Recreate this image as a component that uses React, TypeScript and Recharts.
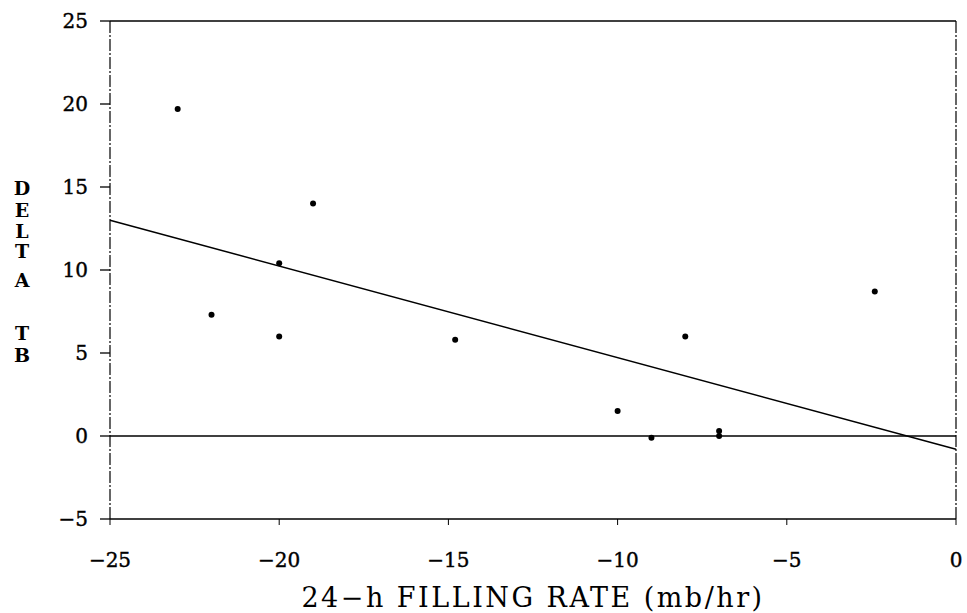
import { ComposedChart, Scatter, XAxis, YAxis, ReferenceLine } from "recharts";

const xValues = [-23, -22, -20, -20, -19, -14.8, -10, -9, -8, -7, -7, -2.4];
const yValues = [19.7, 7.3, 10.4, 6.0, 14.0, 5.8, 1.5, -0.1, 6.0, 0.3, 0.0, 8.7];

// fitted regression line end points
const fitX = [-25, 0];
const fitY = [13.0, -0.8];

const xTicks = [-25, -20, -15, -10, -5, 0];
const yTicks = [-5, 0, 5, 10, 15, 20, 25];

const yLabelLetters = ["D", "E", "L", "T", "A", "T", "B"];
const yLabelOffsets = [188, 210, 231, 251, 280, 333, 355];

const FONT = "'DejaVu Serif', 'Liberation Serif', serif";

const points = xValues.map((x, i) => ({ x, y: yValues[i] }));

const minus = (v: number) => String(v).replace("-", "\u2212");

const Dot = (props: any) => {
  const { cx, cy } = props;
  return <circle cx={cx} cy={cy} r={3} fill="#000" />;
};

const YTitle = () => (
  <g>
    {yLabelLetters.map((ch, i) => (
      <text
        key={i}
        x={22}
        y={yLabelOffsets[i]}
        textAnchor="middle"
        dominantBaseline="central"
        fontFamily={FONT}
        fontWeight="bold"
        fontSize={19}
        fill="#000"
      >
        {ch}
      </text>
    ))}
  </g>
);

const tickStyle = { fill: "#000", stroke: "#000", strokeWidth: 0.4, fontFamily: FONT, fontSize: 20 };

export default function App() {
  return (
    <div style={{ position: "absolute", left: 0, top: 0, width: 967, height: 613, background: "#fff" }}>
      <ComposedChart
        width={967}
        height={613}
        data={points}
        margin={{ top: 21, right: 11, bottom: 0, left: 0 }}
      >
        <XAxis
          dataKey="x"
          type="number"
          domain={[-25, 0]}
          ticks={xTicks}
          tickFormatter={minus}
          height={94}
          tickSize={6}
          tickMargin={28}
          axisLine={{ stroke: "#000", strokeWidth: 1.5 }}
          tickLine={{ stroke: "#000" }}
          tick={tickStyle}
          label={{
            value: "24\u2212h FILLING RATE (mb/hr)",
            position: "insideBottom",
            offset: 6,
            fill: "#000",
            fontFamily: FONT,
            fontSize: 27,
            letterSpacing: 2.5,
          }}
        />
        <YAxis
          dataKey="y"
          type="number"
          domain={[-5, 25]}
          ticks={yTicks}
          tickFormatter={minus}
          width={110}
          tickSize={10}
          tickMargin={12}
          axisLine={{ stroke: "#000", strokeWidth: 1.2, strokeDasharray: "12 2 2 2" }}
          tickLine={{ stroke: "#000", strokeWidth: 1.3 }}
          tick={tickStyle}
          label={{ content: () => <YTitle /> }}
        />
        <ReferenceLine y={25} stroke="#000" strokeWidth={1.5} />
        <ReferenceLine x={0} stroke="#000" strokeWidth={1.2} strokeDasharray="12 2 2 2" />
        <ReferenceLine y={0} stroke="#000" strokeWidth={1.5} />
        <ReferenceLine
          segment={[
            { x: fitX[0], y: fitY[0] },
            { x: fitX[1], y: fitY[1] },
          ]}
          stroke="#000"
          strokeWidth={1.5}
        />
        <Scatter dataKey="y" fill="#000" shape={<Dot />} isAnimationActive={false} />
      </ComposedChart>
    </div>
  );
}
